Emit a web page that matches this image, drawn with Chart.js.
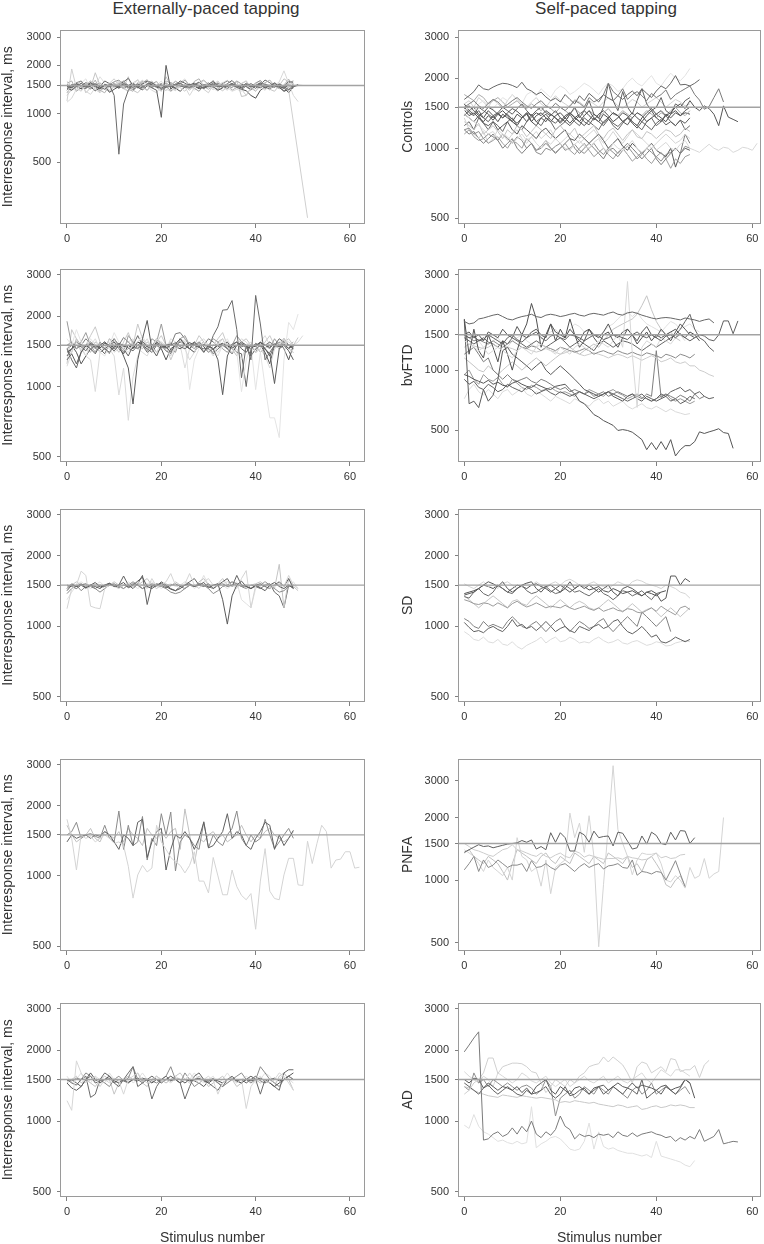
<!DOCTYPE html>
<html>
<head>
<meta charset="utf-8">
<title>Interresponse intervals</title>
<script src="https://cdn.jsdelivr.net/npm/chart.js@4.4.1/dist/chart.umd.min.js"></script>
<style>
	html, body { margin: 0; padding: 0; background: #fff; overflow: hidden; }
	body { width: 764px; height: 1244px; position: relative; font-family: 'Liberation Sans', Arial, sans-serif; }
	canvas { position: absolute; }
	.col-title { position: absolute; top: 0; font-size: 17px; line-height: 17px; color: #333; transform: translateX(-50%); white-space: nowrap; }
</style>
</head>
<body>
<div class="col-title" style="left:206px">Externally-paced tapping</div>
<div class="col-title" style="left:606px">Self-paced tapping</div>

<script>
// values, ms per stimulus index (null = no tap)
const X_TICKS = [0, 20, 40, 60];
const Y_TICKS = [500, 1000, 1500, 2000, 3000];
const GROUPS = ['Controls', 'bvFTD', 'SD', 'PNFA', 'AD'];
const REFERENCE_MS = 1500;

const extControls = [
	[1430,1520,1480,1550,1460,1500,1540,1470,1420,1510,1300,560,1150,1400,1520,1480,1450,1530,1560,1490,1440,1510,1470,1530,1550,1480,1460,1520,1500,1440,1480,1560,1510,1470,1500,1530,1460,1420,1490,1540,1480,1450,1520,1500,1460,1530,1480,1410,1500],
	[1480,1450,1530,1500,1470,1560,1490,1440,1520,1480,1510,1470,1540,1500,1460,1530,1480,1510,1450,1400,950,2000,1420,1530,1490,1460,1510,1550,1480,1440,1500,1530,1470,1510,1480,1540,1490,1450,1520,1470,1500,1530,1460,1490,1550,1480,1440,1510,1470,1520],
	[1200,1900,1450,1380,1520,1600,1420,1350,1480,1550,1650,1500,1430,1380,1560,1620,1450,1400,1500,1580,1470,1390,1520,1600,1450,1380,1500,1560,1480,1420,1350,1520,1600,1470,1400,1530,1490,1420,1300,1450,1560,1480,1400,1520,1470,1550,1480,1400,null,null,null,225],
	[1180,1250,1420,1500,1380,1320,1450,1560,1480,1400,1520,1600,1470,1380,1450,1530,1620,1480,1400,1350,1500,1580,1440,1390,1520,1470,1300,1450,1540,1620,1480,1410,1500,1570,1460,1380,1420,1550,1600,1480,1390,1460,1520,1440,1500,1580,1850,1550,1300,1190],
	[1520,1470,1560,1600,1480,1430,1510,1550,1470,1520,1580,1620,1500,1450,1540,1490,1600,1550,1470,1500,1540,1460,1510,1590,1530,1470,1440,1500,1560,1620,1510,1460,1490,1540,1600,1530,1480,1450,1520,1470,1550,1610,1500,1460,1530,1490,1440,1560,1600],
	[1450,1400,1480,1430,1510,1470,1390,1450,1500,1360,1420,1480,1440,1500,1550,1460,1410,1490,1530,1470,1420,1460,1500,1440,1380,1470,1520,1490,1430,1460,1510,1470,1400,1450,1490,1530,1480,1420,1390,1300,1250,1400,1470,1430,1500,1460,1380,1420,1450],
	[1550,1600,1380,1450,1520,1480,1620,1400,1350,1500,1470,1550,1600,1420,1380,1490,1560,1630,1450,1510,1470,1600,1550,1400,1480,1520,1460,1590,1650,1480,1420,1500,1560,1480,1530,1400,1460,1540,1600,1450,1380,1500,1560,1620,1490,1430,1510,1640,1500],
	[1400,1500,1550,1470,1430,1560,1520,1480,1600,1540,1470,1520,1580,1660,1500,1450,1530,1600,1560,1490,1530,1470,1560,1500,1600,1550,1490,1520,1570,1480,1530,1590,1500,1460,1540,1610,1500,1470,1550,1500,1440,1520,1620,1560,1480,1530,1470,1600,1550],
	[1300,1420,1500,1600,1350,1450,1800,1500,1420,1380,1480,1560,1450,1700,1400,1350,1460,1520,1600,1450,1380,1700,1500,1430,1560,1480,1400,1520,1580,1460,1500,1620,1450,1390,1470,1530,1600,1280,1300,1450,1520,1480,1550,1420,1380,1500,1650,1580,1450],
	[1500,1460,1530,1490,1560,1510,1470,1430,1500,1540,1480,1450,1520,1470,1410,1480,1540,1600,1510,1460,1500,1560,1480,1440,1510,1470,1530,1490,1450,1520,1470,1500,1550,1490,1440,1510,1460,1530,1480,1420,1500,1560,1510,1450,1480,1520,1460,1350,1480,1500],
	[1350,1480,1550,1420,1500,1600,1460,1380,1520,1470,1550,1430,1600,1500,1420,1560,1480,1400,1530,1590,1450,1500,1380,1460,1530,1620,1500,1440,1380,1500,1560,1470,1420,1550,1500,1450,1600,1530,1470,1400,1500,1550,1430,1490,1560,1500,1380,1470,1520],
	[1600,1450,1380,1550,1650,1420,1500,1700,1550,1400,1480,1600,1450,1380,1500,1640,1480,1400,1550,1500,1600,1420,1380,1500,1570,1650,1480,1400,1520,1600,1500,1440,1380,1560,1620,1500,1420,1380,1500,1450,1560,1600,1470,1400,1530,1500,1420,1450,1500,1520,1500],
];

const selfControls = [
	[1620,1680,1750,1870,1800,1780,1830,1870,1900,1890,1860,1820,1920,1800,1760,1700,1740,1660,1600,1640,1580,1700,1620,1550,1680,1600,1720,1650,1580,1700,1640,1600,1680,1620,1700,1760,1680,1800,1720,1650,1760,1850,1800,1900,2050,1870,1880,1850,1900,1970],
	[1500,1550,1600,1520,1480,1560,1620,1580,1500,1540,1600,1650,1580,1520,1480,1550,1600,1520,1480,1560,1500,1450,1520,1600,1560,1500,1650,1580,1620,1700,1900,1750,1680,1800,1620,1700,1750,1680,1600,1720,1650,1700,1780,1620,1700,1750,1800,1850,1700,1610,1470,1510,1650,1800,1580],
	[1480,1520,1450,1380,1420,1500,1460,1400,1350,1420,1480,1440,1380,1300,1360,1420,1380,1450,1400,1350,1300,1380,1420,1360,1300,1250,1320,1400,1350,1280,1350,1420,1380,1300,1260,1350,1420,1380,1300,1350,1400,1450,1380,1420,1500,1550,1480,1600,1500,1450,1520,1480,1400,1250,1520,1360,1330,1300],
	[1400,1350,1300,1250,1200,1150,1180,1100,1150,1120,1050,1100,1150,1080,1120,1050,1000,1080,1040,1100,1050,1000,980,1040,1080,1020,1000,1060,1100,1000,960,1050,1000,980,1020,1080,1000,960,1000,1040,980,1020,1060,1000,980,1040,1080,1000,980,960,1000,1040,1000,980,1010,1000,960,980,1010,1000,980,1050],
	[1450,1500,1420,1550,1600,1520,1480,1560,1650,1600,1700,1620,1550,1700,1750,1680,1800,1720,1650,1780,1850,1800,1700,1750,1820,1900,1850,1780,1700,1820,1900,1850,1750,1800,1920,2000,1900,1850,1950,2050,1900,1850,1980,2100,2000,1950,2050,2200],
	[1500,1420,1380,1450,1350,1300,1380,1420,1350,1400,1330,1280,1350,1420,1380,1300,1350,1400,1320,1280,1350,1300,1250,1320,1380,1300,1260,1350,1300,1250,1330,1280,1240,1300,1350,1280,1220,1300,1250,1200,1280,1330,1260,1300,1250,1320,1280,1350],
	[1200,1220,1150,1180,1100,1150,1120,1080,1150,1100,1050,1120,1080,1000,1050,960,940,1000,980,1020,1050,980,1000,1040,980,950,1000,1050,980,940,1000,960,920,980,1020,960,900,940,1000,960,920,880,940,960,1000,950,1020,1000],
	[1550,1450,1500,1400,1350,1450,1380,1300,1400,1350,1300,1400,1350,1420,1300,1250,1350,1300,1400,1350,1280,1350,1420,1350,1300,1380,1450,1350,1300,1400,1350,1420,1380,1300,1350,1420,1350,1300,1380,1450,1350,1300,1400,1350,1420,1380,1450,1500],
	[1300,1250,1200,1280,1150,1200,1250,1180,1100,1200,1150,1250,1200,1120,1180,1250,1200,1150,1100,1200,1250,1180,1150,1220,1100,1150,1200,1250,1150,1100,1180,1220,1150,1080,1150,1200,1120,1100,1180,1150,1100,1150,1200,1180,1120,1150,1220,1180],
	[1380,1450,1400,1500,1450,1400,1350,1420,1500,1450,1400,1480,1550,1450,1380,1450,1500,1420,1380,1450,1350,1300,1400,1500,1350,1450,1600,1400,1350,1500,1900,1600,1450,1750,1500,1400,1600,1800,1550,1450,1500,1650,1450,1400,1550,1500,1600,1650],
	[1150,1200,1120,1080,1100,1050,1080,1120,1050,1000,1080,1050,1000,1100,1050,980,1020,1080,1000,960,1000,1050,980,940,1000,1050,980,920,960,1000,940,900,960,1000,940,880,920,960,900,860,920,960,900,820,900,860,920,940],
	[1400,1350,1300,1380,1280,1250,1300,1200,1250,1300,1200,1150,1250,1200,1150,1100,1180,1220,1150,1100,1150,1200,1100,1080,1150,1100,1050,1100,1150,1080,1000,1050,1100,1020,980,1050,1000,950,1000,1050,980,950,920,1000,830,950,1000,980],
	[1550,1600,1500,1650,1580,1500,1620,1550,1480,1600,1700,1620,1550,1500,1580,1650,1550,1500,1600,1680,1600,1550,1500,1620,1580,1520,1600,1550,1500,1580,1650,1600,1520,1480,1550,1620,1580,1500,1550,1600,1650,1580,1500,1560,1620,1580,1520,1550],
	[1250,1300,1200,1350,1280,1200,1300,1250,1180,1300,1350,1250,1200,1300,1400,1300,1250,1350,1300,1200,1250,1300,1400,1300,1250,1350,1300,1250,1200,1300,1350,1250,1200,1280,1350,1300,1250,1200,1300,1350,1250,1300,1380,1300,1250,1320,1200,1250],
	[1700,1650,1600,1700,1650,1550,1600,1650,1580,1500,1550,1600,1520,1480,1550,1500,1450,1520,1480,1420,1500,1450,1400,1480,1420,1380,1450,1400,1350,1420,1480,1400,1380,1450,1400,1350,1420,1380,1450,1400,1350,1420,1380,1450,1500,1420,1380,1450],
	[1460,1380,1420,1350,1300,1380,1320,1400,1450,1380,1300,1250,1350,1400,1300,1380,1420,1350,1300,1380,1420,1350,1280,1350,1400,1450,1380,1320,1400,1450,1380,1300,1350,1420,1380,1300,1250,1350,1420,1480,1400,1350,1300,1400,1450,1380,1420,1400],
	[1350,1200,1150,1100,1180,1050,1100,1200,1150,1080,1150,1200,1100,1050,1120,1180,1100,1150,1200,1100,1050,1100,1150,1100,1050,1100,1150,1200,1120,1050,1100,1180,1100,1050,1120,1200,1150,1100,1050,1000,1050,1100,1150,1100,1050,1080,1150,1100],
	[1200,1150,1180,1100,1050,1100,1150,1080,1000,1050,1100,1000,950,1000,1050,980,1000,1050,1000,950,1000,1050,1100,1000,950,1000,1050,1000,950,900,980,1000,950,1000,1050,1000,950,900,950,1000,900,850,900,950,1000,950,1150,1050],
];

const extBvftd = [
	[1350,1450,1500,1480,1420,1520,1470,1500,1450,1400,1480,1530,1500,1460,1420,1500,1560,1480,1450,1520,1490,1460,1500,1540,1480,1450,1500,1520,1470,1450,1450,1650,1800,2120,2130,2330,1750,1090,1500,1300,2450,1850,1300,1400,1500,1480,1520,1450,1500],
	[1300,1380,1250,1400,1500,1450,1380,1500,1550,1480,1420,1500,1350,1200,842,1300,1600,1915,1450,1350,1500,1480,1400,1520,1600,1500,1450,1550,1480,1400,1500,1450,1300,923,1350,1500,1550,1450,1400,1500,1480,1550,1450,1380,1030,1450,1500,1420,1300],
	[1220,1400,1550,1480,1350,1300,952,1400,1500,1450,1350,920,1200,717,1100,1350,1500,1600,1450,1400,1550,1480,1350,1500,1600,1450,1300,1400,1500,1550,1450,1350,1500,1600,1480,1400,1450,1300,1500,1550,1400,1450,1350,1200,1450,1500,1600,1450,1400],
	[1600,1500,1750,1550,1450,1600,1500,1400,1350,1500,1700,1550,1450,1400,1500,1550,1650,1500,1450,1600,1550,1500,1400,1450,1500,1600,971,1300,1450,1550,1500,1450,1350,1500,1600,1450,1400,950,1300,1500,970,1400,1000,735,735,605,1300,1880,1750,2040],
	[1400,1450,1550,1500,1480,1520,1500,1460,1530,1500,1470,1520,1480,1500,1460,1550,1520,1480,1500,1530,1470,1500,1520,1480,1450,1500,1540,1500,1470,1510,1480,1450,1500,1530,1490,1460,1500,1520,1480,1450,1500,1540,1500,1470,1520,1480,1500,1460,1500],
	[1900,1500,1450,1550,1700,1500,1400,1550,1450,1380,1600,1500,1400,1650,1550,1450,1500,1420,1600,1550,1850,1500,1450,1400,1600,1650,1500,1450,1550,1400,1500,1600,1550,1450,1400,1500,1650,1550,1450,1500,1400,1550,1500,1450,1600,1500,1550,1450,1400],
	[1450,1300,1200,1400,1500,1550,1480,1450,1380,1520,1600,1500,1450,1350,1500,1650,1500,1400,1450,1550,1500,1420,1380,1500,1600,1520,1450,1400,1500,1550,1450,1380,1450,1500,1550,1450,1400,1380,1000,1450,1520,1500,1450,1350,1500,1600,1550,1500,1450],
	[1250,1750,1600,1400,1500,1650,1800,1550,1450,1600,1500,1400,1550,1700,1500,1850,1600,1500,1400,1550,1650,1500,1300,1450,1600,1550,1450,1500,1650,1550,1400,1500,1600,1700,1500,1450,1350,1550,1600,1500,1400,1450,1550,1650,1500,1450,1550,1600,1500,1620],
	[1500,1550,1450,1500,1600,1520,1450,1500,1550,1480,1450,1500,1620,1550,1480,1450,1550,1500,1480,1600,1520,1460,1500,1680,1700,1600,1500,1550,1480,1500,1600,1550,1480,1500,1450,1520,1550,1480,1500,1450,1530,1480,1500,1550,1480,1500,1600,1500,1460],
	[1450,1550,1500,1450,1350,1500,1600,1450,1500,1550,1400,1450,1500,1550,1600,1450,1400,1350,1500,1550,1500,1450,1600,1550,1500,1200,1450,1500,1550,1600,1500,1450,1400,1500,1550,1450,1500,1600,1550,1450,1500,1550,1650,1500,1450,1550,1600,1550,1500,1550,1650],
	[1450,1500,1400,1250,1350,1450,1500,1400,1450,1500,1550,1450,1380,1500,1450,1550,1500,1450,1400,1500,1450,1300,1450,1500,1550,1500,1450,1500,1550,1480,1400,1450,1500,1520,1450,1380,1500,1550,1500,1350,1450,1500,1400,1250,1500,1550,1450,1300,1500],
	[1350,1400,1600,1500,1450,1400,1550,1500,1450,1600,1550,1500,1400,1450,1550,1500,1450,1550,1500,1400,1450,1500,1550,1450,1600,1500,1450,1400,1550,1500,1450,1400,1550,1600,1450,1500,1400,1550,1500,1450,1500,1400,1450,1550,1500,1450,1600,1500,1550],
];

const selfBvftd = [
	[1750,1700,1720,1800,1820,1850,1880,1900,1850,1800,1780,1820,1850,1870,1900,1850,1830,1880,1900,1880,1850,1870,1900,1920,1880,1860,1900,1920,1900,1880,1920,1950,1900,1880,1930,1950,1920,1880,1850,1820,1800,1820,1830,1820,1800,1780,1820,1800,1780,1750,1780,1800,1720],
	[1500,1450,1480,1400,1420,1500,1450,1400,1350,1450,1500,1420,1380,1450,1500,1550,1450,1400,1480,1500,1450,1420,1500,1480,1450,1400,1450,1500,1480,1420,1450,1500,1480,1450,1420,1500,1550,1480,1450,1500,1450,1400,1480,1500,1450,1520,1450,1400,1450,1500,1480,1420,1400,1500,1760,1760,1520,1760],
	[950,930,900,880,860,890,850,870,840,830,860,880,850,830,820,850,830,810,800,830,840,850,800,760,700,680,640,600,583,560,545,530,500,505,500,490,470,450,401,435,401,440,401,450,373,401,420,420,440,492,483,492,500,510,488,483,407],
	[1400,1350,1300,1250,1300,1200,1250,1300,1250,1200,1150,1250,1300,1250,1200,1300,1350,1300,1250,1200,1300,1250,1200,1300,1350,1300,1250,1300,1400,1350,1300,1400,1500,1300,2766,1200,651,1300,1400,1350,1300,1450,1400,1350,1450,1500,1400],
	[1800,1200,1600,1250,1150,1500,1300,1100,1400,1200,1000,1250,1500,1700,2150,1800,1300,1500,1700,1400,1600,1450,1800,1500,1300,1400,1600,1450,1350,1500,1550,1400,1300,1450,1600,1500,1350,1450,1550,1400,1500,1450,1500,1550,1600,1500,1450,1550,1500,1400],
	[1780,680,700,650,800,700,750,900,1250,1300,1200,1150,1100,1050,1000,1050,1100,1000,950,1000,1050,1000,950,900,850,800,780,760,740,760,780,740,720,700,740,760,720,700,740,720,700,720,740,700,720,680,700,740,720],
	[1500,1450,1400,1420,1380,1350,1400,1350,1300,1350,1400,1350,1300,1280,1320,1300,1250,1300,1280,1250,1300,1280,1250,1230,1250,1280,1250,1200,1230,1250,1220,1200,1250,1220,1200,1230,1200,1180,1220,1200,1180,1150,1200,1180,1150,1200,1180,1150,1200],
	[1300,1350,1320,1300,1280,1300,1350,1300,1250,1300,1280,1250,1300,1280,1250,1230,1250,1280,1250,1230,1200,1220,1250,1230,1200,1180,1200,1220,1200,1180,1150,1180,1200,1180,1150,1180,1150,1120,1150,1180,1150,1100,1120,1150,1100,1080,1100,1050,1050,1000,980,950,930],
	[900,850,880,820,800,850,820,780,800,850,820,800,780,820,800,760,780,800,770,750,780,760,740,760,780,760,740,720,740,760,780,760,740,720,700,720,740,760,720,700,720,760,740,780,800,820,780,800,760,780,740,720,730],
	[720,800,850,780,750,800,760,720,780,800,750,780,820,760,740,780,760,730,700,740,720,700,680,720,700,680,660,700,720,680,700,660,680,700,660,640,660,680,650,640,660,640,620,640,620,610,600,607],
	[1200,1250,1300,1200,1100,1150,1000,950,900,950,900,880,900,920,880,860,900,880,850,820,800,820,780,800,780,760,780,740,760,780,740,760,780,760,740,760,740,720,760,740,1250,730,760,740,720,750,730,700,760,720,740],
	[1500,1550,1450,1500,1400,1550,1500,1450,1600,1500,1450,1650,1500,1450,1550,1600,1500,1450,1700,1550,1500,1450,1600,1500,1400,1550,1600,1500,1450,1550,1700,1500,1450,1550,1600,1500,1400,1550,1650,1500,1450,1600,1500,1400,1550,1700,1600,1500,1450],
	[1450,1400,1350,1400,1450,1380,1350,1300,1400,1350,1450,1400,1350,1300,1350,1400,1350,1300,1350,1400,1450,1380,1300,1350,1400,1350,1300,1250,1350,1400,1350,1300,1350,1400,1380,1350,1300,1250,1300,1350,1300,1350,1400,1450,1500,1600,1750,1900,1600,1450,1400,1300,1240],
	[1150,1100,1050,1000,980,1050,1000,950,1000,1050,1100,1050,1000,1050,1100,1150,1100,1050,1100,1150,1200,1250,1300,1250,1200,1250,1300,1350,1300,1400,1500,1600,1650,1700,1750,1800,1900,2100,2350,2000,1750,1600,1500,1550,1450,1400],
	[1600,1500,1450,1400,1300,1350,1400,1450,1350,1300,1400,1450,1500,1400,1350,1300,1450,1500,1550,1600,1500,1450,1600,1700,1650,1550,1600,1500,1450,1550,1650,1700,1800,1900,1950,1850,1950,1800,1700,1650,1600,1550,1650,1750,1700,1600,1650,1700,1600,1550],
	[950,1000,900,850,950,900,880,920,850,820,900,860,820,800,840,820,790,800,820,790,770,780,760,740,780,760,800,780,760,740,780,800,770,750,720,740,760,730,720,700,720,740,760,720,700,720,700,680,700],
];

const extSd = [
	[1420,1500,1480,1520,1460,1500,1540,1470,1500,1520,1480,1500,1540,1460,1500,1560,1620,1480,1450,1500,1530,1480,1440,1420,1450,1500,1520,1480,1500,1540,1460,1500,1520,1300,1023,1350,1500,1560,1480,1450,1500,1460,1420,1500,1540,1480,1450,1500,1460],
	[1190,1450,1500,1720,1650,1220,1200,1190,1450,1500,1480,1450,1500,1520,1480,1550,1500,1450,1600,1480,1500,1550,1680,1500,1450,1520,1680,1500,1450,1550,1600,1500,1480,1520,1550,1500,1450,1600,1730,1200,1500,1480,1550,1450,1500,1520,1480,1650,1500,1450],
	[1450,1520,1480,1500,1460,1500,1480,1450,1500,1530,1480,1500,1640,1500,1450,1520,1650,1240,1500,1480,1550,1500,1450,1420,1480,1500,1550,1600,1500,1480,1520,1450,1500,1550,1600,1480,1650,1500,1480,1450,1500,1520,1480,1450,1500,1550,1480,1600,1450],
	[1380,1450,1500,1420,1480,1500,1450,1400,1450,1500,1520,1480,1450,1500,1550,1500,1450,1480,1520,1500,1480,1450,1400,1380,1400,1450,1500,1480,1520,1500,1450,1380,1420,1480,1500,1550,1520,1480,1500,1450,1480,1500,1550,1500,1450,1400,1420,1480,1500],
	[1480,1500,1550,1500,1450,1480,1520,1500,1450,1500,1550,1500,1450,1520,1480,1500,1550,1600,1500,1450,1500,1520,1480,1550,1500,1450,1500,1480,1550,1600,1500,1450,1520,1600,1500,1550,1480,1500,1450,1500,1520,1550,1500,1480,1450,1840,1200,1600,1480,1420],
	[1500,1480,1450,1500,1520,1480,1450,1500,1480,1520,1500,1460,1500,1480,1520,1500,1450,1500,1480,1520,1500,1460,1500,1520,1480,1450,1500,1480,1520,1500,1480,1450,1500,1520,1480,1500,1520,1480,1450,1500,1480,1450,1500,1520,1400,1350,1200,1500,1450],
	[1300,1400,1500,1550,1500,1450,1500,1550,1480,1500,1520,1480,1500,1550,1500,1450,1500,1520,1550,1500,1450,1500,1520,1480,1500,1550,1520,1450,1500,1650,1500,1480,1520,1500,1450,1500,1550,1300,1250,1200,1450,1500,1550,1480,1500,1520,1480,1500,1550,1450],
];

const selfSd = [
	[1360,1380,1400,1450,1500,1550,1520,1480,1550,1450,1400,1450,1500,1530,1550,1450,1400,1480,1500,1450,1400,1450,1550,1450,1500,1450,1500,1450,1400,1450,1500,1400,1350,1450,1480,1450,1400,1350,1400,1420,1380,1280,1320,1640,1640,1500,1600,1550],
	[1340,1320,1400,1450,1380,1350,1400,1500,1450,1400,1380,1450,1500,1420,1380,1400,1450,1480,1420,1380,1400,1500,1450,1400,1420,1380,1350,1400,1450,1380,1350,1300,1350,1420,1400,1350,1380,1420,1350,1300,1380,1400],
	[1520,1480,1450,1500,1550,1480,1500,1450,1520,1550,1500,1450,1480,1520,1500,1550,1500,1480,1520,1550,1500,1560,1590,1550,1500,1480,1520,1550,1500,1480,1450,1500,1550,1520,1480,1550,1580,1560,1520,1500,1480,1450,1500,1480,1450,1400,1380,1320],
	[1300,1280,1250,1240,1260,1250,1220,1260,1230,1200,1250,1280,1240,1210,1230,1260,1230,1200,1220,1210,1200,1230,1200,1180,1200,1220,1190,1170,1200,1160,1180,1200,1170,1160,1190,1180,1150,1140,1170,1200,1160,1220,1180,1150,1120,1200,1220,1180],
	[1040,990,950,960,940,980,1000,970,950,1000,1070,1000,1020,980,1000,960,1000,1050,1000,950,980,1000,960,940,1000,980,960,1000,1020,980,1000,1050,1070,1000,950,930,960,1000,950,900,920,860,850,870,900,880,860,880],
	[950,920,880,870,900,860,850,880,840,830,860,820,800,830,850,870,900,850,880,900,860,870,900,880,850,860,850,880,900,870,850,860,880,850,840,860,870,850,830,840,860,850,825,830,850,860,870,860],
	[1080,1050,1000,980,1050,1000,1020,1000,980,1050,1100,1050,1000,980,1020,1050,1000,950,1000,1050,1080,1000,950,1000,1050,1020,980,1000,1050,1080,1000,950,1000,1050,1100,1050,1000,1150,1100,1050,1000,1050,1100,950],
	[1350,1300,1250,1200,1250,1300,1350,1300,1250,1200,1280,1300,1250,1230,1300,1350,1300,1250,1200,1250,1300,1250,1200,1250,1280,1250,1200,1180,1200,1250,1300,1250,1200,1150,1200,1250,1200,1150,1180,1200,1150,1100,1150,1200,1150,1100,1150,1200],
	[1380,1400,1420,1450,1500,1480,1450,1500,1450,1400,1450,1500,1480,1450,1500,1520,1480,1450,1400,1450,1500,1450,1400,1450,1500,1480,1430,1450,1480,1420,1400,1450,1420,1380,1400,1420,1380,1350,1400,1380,1350,1400,1420],
];

const extPnfa = [
	[1750,1450,1060,1500,1450,1480,1400,1450,1500,1450,1380,1400,1350,1100,803,1010,1110,1040,1080,1650,1400,1300,1200,1150,1110,1030,1110,1270,950,950,845,1200,1000,830,830,1060,900,825,790,840,590,950,1310,860,800,790,1010,1190,1190,915,910,1410,1130,1380,1650,1550,1080,1170,1180,1270,1270,1080,1090],
	[1400,1500,1450,1480,1500,1450,1500,1480,1550,1500,1400,1300,1500,1450,1350,1700,1750,1200,1400,1550,1600,1060,1300,1500,1450,1550,1450,1300,1450,1700,1320,1350,1450,1550,1850,1450,1550,1500,1350,1300,1450,1550,1700,1650,1300,1500,1350,1450,1570],
	[1500,1550,1700,1450,1500,1520,1480,1450,1650,1450,1400,1900,1300,1650,1350,1400,1800,1170,1450,1350,1850,1500,1880,1050,1400,1500,1450,1350,1300,1710,1320,1500,1400,1350,1500,1600,1900,1450,1350,1500,1400,1450,1750,1500,1310,1400,1500,1600,1450],
	[1650,1500,1400,1450,1500,1600,1450,1400,1550,1500,1450,1550,1400,1600,1500,1450,1350,1600,1500,1450,1550,1450,1550,1600,1300,1940,1500,1130,1450,1400,1500,1550,1450,1500,1400,1450,1500,1650,1500,1400,1500,1450,1550,1600,1500,1450,1400,1450,1550],
];

const selfPnfa = [
	[1360,1400,1440,1480,1450,1460,1430,1450,1470,1490,1500,1510,1550,1520,1560,1410,1450,1400,1690,1520,1690,1600,1380,1380,1700,1650,1520,1720,1600,1620,1630,1460,1700,1680,1540,1410,1430,1630,1490,1700,1640,1500,1480,1700,1560,1730,1720,1500,1600],
	[1120,1200,1300,1100,1250,1150,1180,1250,1200,1150,1180,1180,1200,1100,1240,1150,1160,1200,1150,1120,1180,1200,1150,1100,1160,1200,1150,1180,1200,1130,1170,1180,1200,1150,1140,1250,1055,1100,1090,1070,1100,1090,1000,1110,1240,1070,930],
	[1500,1450,1400,1380,1350,1320,1300,1350,1400,1420,1480,1400,1380,1350,1320,1300,1350,1300,1280,1320,1350,1300,1280,1380,1350,1290,1320,1300,1280,1260,1270,1270,1280,1260,1300,1280,1270,1250,1260,1300,1350,1280,1300,1270,1280,1320,1330],
	[1400,1350,1300,1200,1100,1250,1150,1100,1050,1150,1000,1600,1300,1250,1100,1150,935,1250,860,1150,1200,1250,2100,1600,1880,1360,2040,1300,478,950,1800,3550,1750,1500,1300,1060,1250,1350,1330,1330,1350,1200,1000,980,1050,1000,915,1150,1020,1050,1270,1020,1070,1100,2000],
	[1350,1400,1300,1250,1200,1300,1250,1200,1100,1000,1200,1400,1350,1300,1250,1200,1300,1350,1250,1200,1300,1250,1200,1350,1300,1250,1200,1300,1250,1200,1350,1300,1250,1200,1300,1150,1200,1100,1250,1300,1200,1100,950,920,1000,1050,930],
];

const extAd = [
	[1220,1110,1800,1600,1450,1500,1550,1400,1500,1450,1520,1480,1300,1500,1550,1600,1500,1450,1500,1550,1480,1500,1450,1520,1500,1480,1600,1500,1450,1500,1550,1480,1300,1450,1500,1520,1450,1500,1130,1400,1500,1550,1480,1450,1500,1600,1550,1450,1350],
	[1450,1380,1350,1400,1500,1600,1500,1450,1500,1550,1480,1450,1500,1460,1500,1480,1520,1500,1450,1500,1480,1500,1550,1500,1450,1500,1480,1500,1520,1480,1450,1500,1480,1450,1500,1520,1480,1450,1500,1480,1500,1520,1480,1450,1400,1450,1500,1550,1600],
	[1500,1450,1420,1500,1550,1260,1300,1500,1600,1550,1450,1400,1500,1600,1700,1400,1450,1500,1240,1400,1500,1550,1480,1500,1450,1240,1400,1550,1600,1500,1450,1400,1350,1450,1500,1550,1480,1450,1500,1550,1500,1300,1500,1450,1400,1350,1600,1650,1650],
	[1500,1480,1520,1500,1600,1550,1480,1500,1450,1400,1500,1550,1480,1520,1700,1500,1450,1500,1480,1450,1500,1550,1700,1500,1450,1600,1500,1400,1450,1500,1480,1520,1450,1400,1450,1500,1550,1600,1500,1450,1500,1700,1600,1500,1450,1400,1500,1550,1500],
	[1450,1500,1550,1450,1500,1450,1400,1500,1550,1500,1300,1450,1500,1550,1500,1600,1450,1400,1500,1550,1500,1450,1500,1550,1600,1500,1450,1500,1550,1500,1400,1450,1500,1550,1450,1500,1400,1450,1500,1550,1500,1450,1500,1450,1400,1550,1600,1500,1350],
	[1480,1500,1450,1400,1500,1550,1450,1480,1500,1520,1450,1500,1480,1450,1500,1520,1480,1500,1550,1500,1450,1500,1480,1520,1500,1450,1500,1480,1450,1400,1480,1500,1450,1400,1500,1520,1480,1500,1450,1500,1550,1480,1450,1500,1520,1480,1500,1550,1500],
	[1550,1450,1500,1600,1500,1450,1550,1500,1450,1600,1500,1450,1500,1550,1450,1500,1600,1500,1450,1550,1500,1450,1500,1550,1500,1450,1500,1600,1500,1450,1500,1550,1450,1500,1600,1500,1450,1500,1550,1500,1450,1500,1600,1550,1450,1500,1600,1500,1450],
];

const selfAd = [
	[1965,2100,2250,2390,830,840,880,900,860,880,935,880,950,900,1000,880,850,900,870,920,1050,950,920,840,880,860,870,850,880,870,880,850,900,870,860,890,860,880,890,900,880,870,850,860,820,850,830,860,840,920,820,840,860,920,800,810,820,815],
	[1300,1350,1450,1500,1600,1850,1850,1590,1700,1730,1760,1760,1750,1700,1620,1600,1450,1320,1400,1500,1450,1400,1500,1450,1550,1600,1700,1730,1750,1870,1780,1870,1800,1730,1600,1450,1700,1780,1750,1600,1650,1700,1620,1840,1820,1620,1650,1650,1720,1530,1730,1810],
	[960,930,1065,950,900,880,850,820,830,810,800,820,800,810,1150,770,800,820,850,860,840,800,760,750,760,820,980,760,900,780,760,770,750,740,730,730,720,710,720,700,820,710,700,690,680,670,650,640,680],
	[1500,1450,1520,1500,1380,1450,1400,1350,1400,1380,1350,1400,1320,1380,1300,1400,1450,1500,1350,1300,1400,1350,1300,1380,1400,1350,1300,1380,1400,1420,1350,1400,1450,1400,1380,1450,1380,1420,1400,1380,1350,1400,1420,1350,1380,1400,1500,1450,1250],
	[1450,1400,1350,1300,1380,1420,1350,1300,1350,1400,1350,1300,1280,1350,1300,1320,1350,1400,1300,1250,1300,1400,1280,1300,1350,1380,1300,1350,1400,1300,1350,1400,1350,1300,1380,1350,1300,1500,1250,1300,1350,1300,1400,1350,1300,1380,1500,1450],
	[1400,1380,1350,1320,1300,1280,1270,1260,1290,1280,1270,1260,1280,1270,1260,1250,1260,1250,1240,1230,1200,1210,1200,1220,1210,1200,1190,1200,1180,1170,1160,1150,1170,1160,1140,1150,1160,1120,1130,1150,1160,1140,1150,1170,1160,1170,1160,1140,1140],
	[1400,1350,1600,1450,1500,1400,1500,1450,1400,1450,1400,1350,1400,1420,1380,1300,1350,1500,1400,1050,1250,1300,1350,1250,1300,1400,1350,1300,1400,1350,1300,1400,1350,1300,1250,1350,1400,1300,1350,1450,1300,1350,1400,1350,1300,1350,1400,1300],
	[1620,1550,1500,1450,1550,1500,1400,1600,1550,1500,1450,1500,1600,1550,1480,1450,1500,1550,1450,1400,1450,1500,1400,1450,1500,1550,1480,1450,1500,1550,1450,1500,1550,1480,1450,1500,1550,1600,1500,1450,1550,1650,1600,1550,1650,1650,1600,1550],
];

// grey level of every subject's line, same order as the data above
const SHADES = {
	extControls: ['#6a6a6a','#5a5a5a','#cfcfcf','#d8d8d8','#8a8a8a','#4e4e4e','#b0b0b0','#666666','#c4c4c4','#5e5e5e','#9a9a9a','#e0e0e0'],
	selfControls: ['#666666','#7a7a7a','#555555','#d8d8d8','#e2e2e2','#5e5e5e','#8c8c8c','#505050','#c4c4c4','#606060','#9c9c9c','#585858','#d0d0d0','#6a6a6a','#aaaaaa','#4e4e4e','#d4d4d4','#7e7e7e'],
	extBvftd: ['#6a6a6a','#5a5a5a','#dadada','#e4e4e4','#4a4a4a','#9a9a9a','#646464','#c8c8c8','#7a7a7a','#dcdcdc','#555555','#b8b8b8'],
	selfBvftd: ['#666666','#5e5e5e','#555555','#d8d8d8','#505050','#5a5a5a','#8a8a8a','#cccccc','#606060','#dadada','#7e7e7e','#555555','#646464','#c4c4c4','#e0e0e0','#9a9a9a'],
	extSd: ['#5a5a5a','#d4d4d4','#606060','#8a8a8a','#c4c4c4','#6a6a6a','#e0e0e0'],
	selfSd: ['#585858','#6a6a6a','#d4d4d4','#9a9a9a','#606060','#dcdcdc','#808080','#c4c4c4','#505050'],
	extPnfa: ['#d4d4d4','#606060','#8a8a8a','#c0c0c0'],
	selfPnfa: ['#606060','#8a8a8a','#cccccc','#d4d4d4','#c0c0c0'],
	extAd: ['#d6d6d6','#585858','#6a6a6a','#8a8a8a','#c4c4c4','#606060','#e0e0e0'],
	selfAd: ['#7a7a7a','#d0d0d0','#e0e0e0','#585858','#606060','#c8c8c8','#909090','#d8d8d8'],
};

const FONT = "'Liberation Sans', Arial, sans-serif";
const TEXT = '#333333';
const FRAME = '#9a9a9a';
const AXIS_W = 61;
const PAD_TOP = 10;
const PAD_RIGHT = 4;

const COLS = [
	{ left: 61, right: 364, xMin: -1.27, xMax: 62.97 },
	{ left: 459, right: 760, xMin: -1.1, xMax: 61.6 },
];
const ROWS = [
	{ top: 27, bottom: 224 },
	{ top: 266, bottom: 462 },
	{ top: 506, bottom: 702 },
	{ top: 756, bottom: 951 },
	{ top: 1000, bottom: 1197 },
];

const panels = [
	{ row: 0, col: 0, series: extControls, shades: SHADES.extControls, yMin: 206, yMax: 3340 },
	{ row: 0, col: 1, series: selfControls, shades: SHADES.selfControls, yMin: 473, yMax: 3230 },
	{ row: 1, col: 0, series: extBvftd, shades: SHADES.extBvftd, yMin: 476, yMax: 3190 },
	{ row: 1, col: 1, series: selfBvftd, shades: SHADES.selfBvftd, yMin: 348, yMax: 3210 },
	{ row: 2, col: 0, series: extSd, shades: SHADES.extSd, yMin: 476, yMax: 3180 },
	{ row: 2, col: 1, series: selfSd, shades: SHADES.selfSd, yMin: 476, yMax: 3180 },
	{ row: 3, col: 0, series: extPnfa, shades: SHADES.extPnfa, yMin: 476, yMax: 3190 },
	{ row: 3, col: 1, series: selfPnfa, shades: SHADES.selfPnfa, yMin: 456, yMax: 3840 },
	{ row: 4, col: 0, series: extAd, shades: SHADES.extAd, yMin: 476, yMax: 3180 },
	{ row: 4, col: 1, series: selfAd, shades: SHADES.selfAd, yMin: 476, yMax: 3180 },
];

const framePlugin = {
	id: 'frame',
	afterDraw(chart) {
		const { ctx, chartArea: a } = chart;
		ctx.save();
		ctx.strokeStyle = FRAME;
		ctx.lineWidth = 1;
		ctx.strokeRect(Math.round(a.left) - 0.5, Math.round(a.top) + 0.5, Math.round(a.right - a.left) + 1, Math.round(a.bottom - a.top) - 1);
		ctx.restore();
	},
};

const toPoints = (values) => values.map((y, x) => ({ x, y }));

panels.forEach((panel) => {
	const col = COLS[panel.col];
	const row = ROWS[panel.row];
	const isBottom = panel.row === ROWS.length - 1;
	const xHeight = isBottom ? 50 : 26;

	const canvas = document.createElement('canvas');
	const left = col.left - AXIS_W;
	const width = col.right - left + PAD_RIGHT;
	const height = PAD_TOP + (row.bottom - row.top) + xHeight;
	canvas.width = width;
	canvas.height = height;
	canvas.style.left = `${left}px`;
	canvas.style.top = `${row.top - PAD_TOP}px`;
	canvas.style.width = `${width}px`;
	canvas.style.height = `${height}px`;
	document.body.appendChild(canvas);

	const datasets = [
		{
			data: [{ x: col.xMin, y: REFERENCE_MS }, { x: col.xMax, y: REFERENCE_MS }],
			borderColor: '#a3a3a3',
			borderWidth: 1.4,
		},
		...panel.series.map((values, i) => ({
			data: toPoints(values),
			borderColor: panel.shades[i % panel.shades.length],
			borderWidth: 1,
			spanGaps: true,
		})),
	];

	new Chart(canvas, {
		type: 'line',
		data: { datasets },
		options: {
			responsive: false,
			animation: false,
			devicePixelRatio: 1,
			layout: { padding: { top: PAD_TOP, right: PAD_RIGHT, left: 0, bottom: 0 } },
			elements: {
				point: { radius: 0, hoverRadius: 0 },
				line: { tension: 0 },
			},
			plugins: {
				legend: { display: false },
				tooltip: { enabled: false },
			},
			scales: {
				x: {
					type: 'linear',
					min: col.xMin,
					max: col.xMax,
					afterBuildTicks: (scale) => {
						scale.ticks = X_TICKS.map((value) => ({ value }));
					},
					afterFit: (scale) => {
						scale.height = xHeight;
					},
					grid: { drawOnChartArea: false, tickLength: 4, color: '#808080' },
					border: { display: false },
					ticks: {
						autoSkip: false,
						maxRotation: 0,
						padding: 4,
						color: TEXT,
						font: { family: FONT, size: 11 },
						callback: (value) => String(value),
					},
					title: {
						display: isBottom,
						text: 'Stimulus number',
						color: TEXT,
						font: { family: FONT, size: 14 },
						padding: 0,
					},
				},
				y: {
					type: 'logarithmic',
					min: panel.yMin,
					max: panel.yMax,
					afterBuildTicks: (scale) => {
						scale.ticks = Y_TICKS.map((value) => ({ value }));
					},
					afterFit: (scale) => {
						scale.width = AXIS_W;
					},
					grid: { drawOnChartArea: false, tickLength: 4, color: '#808080' },
					border: { display: false },
					ticks: {
						padding: 6,
						color: TEXT,
						font: { family: FONT, size: 11 },
						callback: (value) => String(value),
					},
					title: {
						display: true,
						text: panel.col === 0 ? 'Interresponse interval, ms' : GROUPS[panel.row],
						color: TEXT,
						font: { family: FONT, size: 14 },
						padding: { top: panel.col === 0 ? 0 : 2 },
					},
				},
			},
		},
		plugins: [framePlugin],
	});
});
</script>
</body>
</html>
